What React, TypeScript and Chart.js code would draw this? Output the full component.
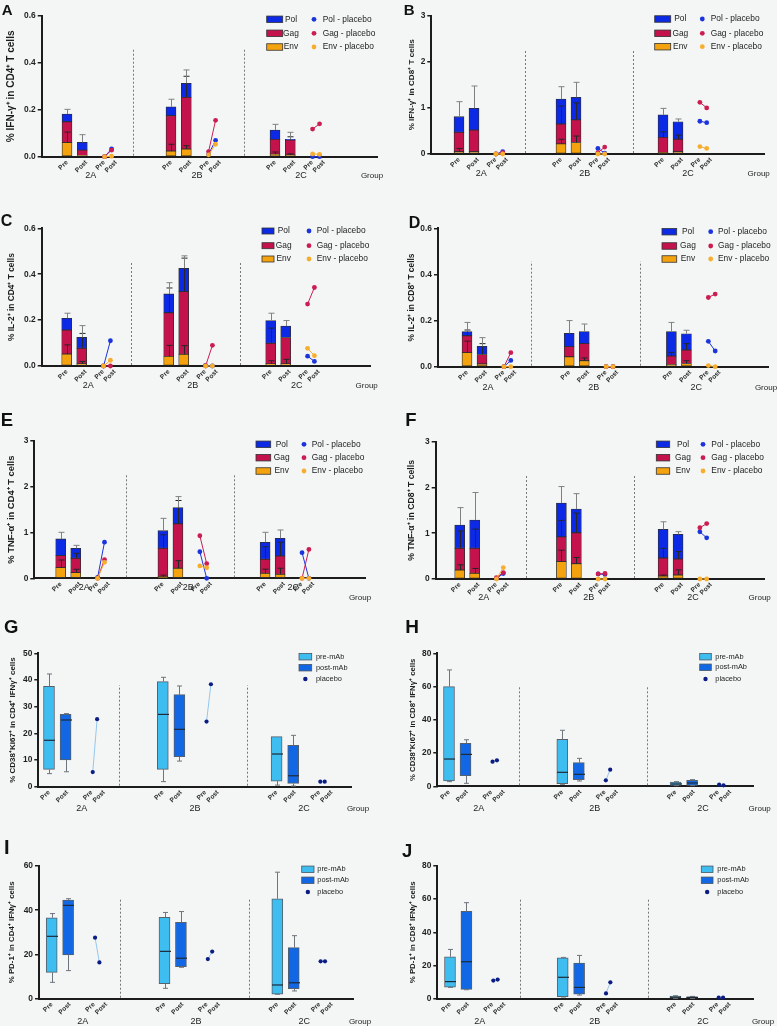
import React, { useEffect, useRef } from 'react';
import { Chart, registerables } from 'chart.js';

Chart.register(...registerables);

const FONT = '"Liberation Sans", Arial, Helvetica, sans-serif';
const BG = '#f4f6f6';
const INK = '#1c1c1c';

const POL_C = '#0c2ae6';
const GAG_C = '#c4124c';
const ENV_C = '#f4a20e';
const POL_PL = '#1b34dc';
const GAG_PL = '#cc1d52';
const ENV_PL = '#f7ae2e';
const PRE_C = '#3ebdf0';
const POST_C = '#1268e4';
const PL_DOT = '#0b1d84';
const PL_LINE = '#93c7ee';

const GROUPS = ['2A', '2B', '2C'];
const TIME_LABELS = ['Pre', 'Post'];
const GROUP_WORD = 'Group';
const BAR_LEGEND = ['Pol', 'Gag', 'Env'];
const BAR_PL_LEGEND = ['Pol - placebo', 'Gag - placebo', 'Env - placebo'];
const BOX_LEGEND = ['pre-mAb', 'post-mAb', 'placebo'];

// ---- Bar panels: order [2A Pre, 2A Post, 2B Pre, 2B Post, 2C Pre, 2C Post]; stacked segment heights
// Placebo arrays: [2A pre, 2A post, 2B pre, 2B post, 2C pre, 2C post]
const A_env = [0.060, 0.005, 0.024, 0.033, 0.011, 0.007];
const A_gag = [0.089, 0.023, 0.151, 0.220, 0.063, 0.064];
const A_pol = [0.033, 0.033, 0.038, 0.060, 0.040, 0.003];
const A_envErr = [0.045, 0, 0.029, 0.014, 0.009, 0.005];
const A_gagErr = [0, 0, 0, 0.090, 0, 0.014];
const A_polErr = [0.020, 0.033, 0.032, 0.057, 0.024, 0.030];
const A_plPol = [0, 0.033, 0.010, 0.070, 0, 0];
const A_plGag = [0, 0.028, 0.022, 0.155, 0.118, 0.140];
const A_plEnv = [0, 0.002, 0.008, 0.053, 0.012, 0.010];

const B_env = [0.05, 0.05, 0.22, 0.25, 0.03, 0.05];
const B_gag = [0.42, 0.47, 0.43, 0.49, 0.33, 0.27];
const B_pol = [0.34, 0.47, 0.54, 0.49, 0.49, 0.38];
const B_envErr = [0.07, 0, 0.10, 0.14, 0, 0];
const B_gagErr = [0, 0, 0.39, 0.37, 0.12, 0.09];
const B_polErr = [0.325, 0.485, 0.27, 0.325, 0.14, 0.06];
const B_plPol = [0, 0.05, 0.12, 0.02, 0.71, 0.68];
const B_plGag = [0, 0.03, 0.03, 0.15, 1.12, 1.0];
const B_plEnv = [0, 0, 0, 0, 0.16, 0.12];

const C_env = [0.052, 0.009, 0.042, 0.051, 0.009, 0.009];
const C_gag = [0.105, 0.068, 0.190, 0.273, 0.090, 0.115];
const C_pol = [0.051, 0.048, 0.082, 0.102, 0.099, 0.050];
const C_envErr = [0.040, 0.011, 0.048, 0.038, 0.014, 0.020];
const C_gagErr = [0, 0.065, 0.108, 0.146, 0.066, 0];
const C_polErr = [0.022, 0.051, 0.049, 0.054, 0.032, 0.024];
const C_plPol = [0, 0.11, 0.003, 0, 0.043, 0.020];
const C_plGag = [0, 0, 0, 0.09, 0.27, 0.342];
const C_plEnv = [0, 0.025, 0, 0, 0.077, 0.045];

const D_env = [0.061, 0.012, 0.043, 0.026, 0.010, 0.014];
const D_gag = [0.073, 0.041, 0.044, 0.074, 0.036, 0.058];
const D_pol = [0.018, 0.035, 0.058, 0.052, 0.106, 0.071];
const D_envErr = [0.050, 0, 0, 0.012, 0, 0.012];
const D_gagErr = [0.025, 0.047, 0, 0, 0.016, 0.028];
const D_polErr = [0.040, 0.038, 0.055, 0.033, 0.040, 0.015];
const D_plPol = [0, 0.027, 0, 0, 0.11, 0.068];
const D_plGag = [0, 0.061, 0, 0, 0.30, 0.315];
const D_plEnv = [0, 0, 0, 0, 0.005, 0];

const E_env = [0.233, 0.124, 0.036, 0.220, 0.110, 0.087];
const E_gag = [0.262, 0.313, 0.619, 0.970, 0.305, 0.401];
const E_pol = [0.365, 0.218, 0.385, 0.355, 0.372, 0.386];
const E_envErr = [0.167, 0.073, 0.034, 0.166, 0.090, 0.133];
const E_gagErr = [0, 0.110, 0.295, 0.510, 0.275, 0.300];
const E_polErr = [0.145, 0.065, 0.270, 0.240, 0.218, 0.182];
const E_plPol = [0.02, 0.79, 0.58, 0, 0.56, 0];
const E_plGag = [0, 0.41, 0.93, 0.32, 0, 0.63];
const E_plEnv = [0, 0.35, 0.27, 0.23, 0, 0];

const F_env = [0.197, 0.124, 0.380, 0.335, 0.066, 0.087];
const F_gag = [0.473, 0.546, 0.540, 0.675, 0.394, 0.350];
const F_pol = [0.510, 0.620, 0.740, 0.520, 0.625, 0.539];
const F_envErr = [0.113, 0.106, 0.250, 0.135, 0.021, 0.113];
const F_gagErr = [0.380, 0.420, 0.360, 0.430, 0.210, 0.163];
const F_polErr = [0.380, 0.600, 0.360, 0.335, 0.165, 0.058];
const F_plPol = [0.01, 0.12, 0.11, 0.10, 1.03, 0.90];
const F_plGag = [0.03, 0.14, 0.11, 0.12, 1.12, 1.21];
const F_plEnv = [0, 0.25, 0, 0, 0, 0];

// ---- Box panels: order [2A Pre, 2A Post, 2B Pre, 2B Post, 2C Pre, 2C Post]
const G_min = [4.9, 5.6, 1.9, 9.6, 0.6, 0.25];
const G_q1 = [6.5, 10, 6.5, 11.25, 2.1, 1.25];
const G_med = [17.4, 25, 27.1, 21.5, 12.25, 4.1];
const G_q3 = [37.6, 27.1, 39.4, 34.5, 18.75, 15.5];
const G_max = [42.25, 27.4, 41, 37.75, 18.75, 19.25];
const G_placebo = [5.5, 25.3, 24.4, 38.4, 1.9, 1.9];

const H_min = [2.8, 1.8, 1.2, 3.2, 0.4, 0.4];
const H_q1 = [3.2, 6.4, 1.6, 4, 0.6, 0.6];
const H_med = [16.4, 19.2, 8.4, 7.2, 1.4, 2];
const H_q3 = [60, 25.9, 28.3, 14.2, 2.6, 3.6];
const H_max = [70, 28, 33.7, 16.8, 2.8, 4];
const H_placebo = [14.8, 15.6, 3.6, 10, 1, 0.6];

const I_min = [7.4, 12.7, 4.7, 14.2, 2, 3.5];
const I_q1 = [11.9, 19.8, 6.8, 14.5, 2.1, 4.5];
const I_med = [28.2, 42.2, 21.4, 18.3, 6.2, 7.2];
const I_q3 = [36.6, 44.6, 36.8, 34.5, 45.2, 23.1];
const I_max = [38.5, 45.2, 39, 39.4, 57.2, 28.5];
const I_placebo = [27.6, 16.4, 17.9, 21.3, 16.9, 16.9];

const J_min = [6.8, 5.4, 1, 2.2, 0.2, 0.2];
const J_q1 = [7, 5.6, 1.2, 2.8, 0.4, 0.4];
const J_med = [10.3, 22.3, 12.9, 6.8, 0.9, 0.8];
const J_q3 = [25.3, 52.7, 24.7, 21.5, 1.6, 1.2];
const J_max = [29.7, 57.9, 24.9, 26.1, 1.8, 1.4];
const J_placebo = [10.9, 11.5, 3.2, 9.9, 0.6, 0.6];

// slot offsets inside a group (7 units per group): Pre, Post, placebo Pre, placebo Post
const BAR_SLOTS = [0, 1.03, 2.53, 3.0];
const BOX_SLOTS = [0, 1.02, 2.69, 2.96];
// where the Pre/Post tick labels sit
const BAR_TICK_SLOTS = [0, 1.3, 2.5, 3.3];
const BOX_TICK_SLOTS = [0, 1.12, 2.62, 3.38];

// ---- Layout (page pixels)
const LAYOUT: any = {
  A: { canvas: { L: 0, T: 0, W: 388, H: 195 }, plot: { left: 41.7, top: 16, right: 377, bottom: 156.7 }, firstX: 67, spacing: 104,
    seps: [133.3, 244.3], groupX: [90.7, 197, 301], groupY: 176, word: [372, 176], titleX: 11.7, titleLen: 112,
    letter: { x: 2.7, y: 4, size: 15 }, legend: { boxL: 266.7, boxW: 16, boxH: 6.5, rows: [19.3, 33.3, 47], textX: 291, dotX: 314, dotTextX: 322.7 } },
  B: { canvas: { L: 388, T: 0, W: 389, H: 195 }, plot: { left: 431.3, top: 15.7, right: 764.7, bottom: 154 }, firstX: 459, spacing: 102,
    seps: [524.7, 633], groupX: [481.3, 584.7, 688], groupY: 174, word: [758.7, 174], titleX: 24, titleLen: 90,
    letter: { x: 404.7, y: 4, size: 15 }, legend: { boxL: 654.7, boxW: 16, boxH: 6.5, rows: [19, 33.3, 46.7], textX: 680.3, dotX: 702.3, dotTextX: 710.7 } },
  C: { canvas: { L: 0, T: 195, W: 388, H: 200 }, plot: { left: 41.7, top: 228.3, right: 370, bottom: 366 }, firstX: 66.7, spacing: 102,
    seps: [131, 240], groupX: [88.3, 192.7, 296.7], groupY: 386, word: [366.7, 386], titleX: 11.7, titleLen: 87,
    letter: { x: 1.7, y: 215, size: 16 }, legend: { boxL: 262, boxW: 12, boxH: 6, rows: [231, 245.7, 259], textX: 283.7, dotX: 309, dotTextX: 316.7 } },
  D: { canvas: { L: 388, T: 195, W: 389, H: 200 }, plot: { left: 438, top: 228.3, right: 768, bottom: 366.7 }, firstX: 467, spacing: 102.2,
    seps: [531.3, 640.3], groupX: [488, 593.7, 696.3], groupY: 387.3, word: [766, 387.3], titleX: 23.3, titleLen: 87,
    letter: { x: 409.7, y: 216.7, size: 16 }, legend: { boxL: 662, boxW: 14.7, boxH: 6.5, rows: [231.7, 246, 259], textX: 688, dotX: 710.7, dotTextX: 718 } },
  E: { canvas: { L: 0, T: 395, W: 388, H: 210 }, plot: { left: 34.3, top: 441, right: 365, bottom: 578.3 }, firstX: 60.7, spacing: 102.2,
    seps: [125.7, 234.3], groupX: [84.3, 188.3, 293.3], groupY: 587.7, word: [360, 597.7], titleX: 11.7, titleLen: 108,
    letter: { x: 1.7, y: 413.3, size: 18.5 }, legend: { boxL: 256, boxW: 14.7, boxH: 6.5, rows: [444.3, 457.7, 471], textX: 281.7, dotX: 304, dotTextX: 311.7 } },
  F: { canvas: { L: 388, T: 395, W: 389, H: 210 }, plot: { left: 435.7, top: 441.7, right: 764.7, bottom: 579 }, firstX: 459.7, spacing: 101.7,
    seps: [525.7, 634], groupX: [483.7, 588.7, 693], groupY: 597.7, word: [759.7, 597.7], titleX: 23.3, titleLen: 100,
    letter: { x: 406.3, y: 413.3, size: 18.5 }, legend: { boxL: 656.3, boxW: 13.4, boxH: 6.5, rows: [444.3, 457.7, 471], textX: 683, dotX: 703, dotTextX: 711.3 } },
  G: { canvas: { L: 0, T: 605, W: 388, H: 210 }, plot: { left: 38.3, top: 653.3, right: 351.7, bottom: 786.7 }, firstX: 49, spacing: 113.8,
    seps: [119.3, 247.3], groupX: [81.7, 195, 304], groupY: 809, word: [358, 809], titleX: 12.7, titleLen: 123,
    letter: { x: 5, y: 620, size: 18.5 }, legend: { boxL: 299, boxW: 12.7, boxH: 6.5, rows: [656.7, 667.7, 679], textL: 316 } },
  H: { canvas: { L: 388, T: 605, W: 389, H: 210 }, plot: { left: 437.3, top: 653.3, right: 753, bottom: 786.3 }, firstX: 449, spacing: 113.3,
    seps: [519, 647.3], groupX: [478.7, 594.7, 703], groupY: 809, word: [759.7, 809], titleX: 25, titleLen: 120,
    letter: { x: 406.3, y: 619, size: 19 }, legend: { boxL: 699.7, boxW: 11.6, boxH: 6.5, rows: [656.7, 667.3, 679], textL: 715.3 } },
  I: { canvas: { L: 0, T: 815, W: 388, H: 211 }, plot: { left: 39, top: 866, right: 353.3, bottom: 998.7 }, firstX: 51.7, spacing: 112.8,
    seps: [120, 249.3], groupX: [82.7, 196, 304.3], groupY: 1021.7, word: [360, 1021.7], titleX: 11.7, titleLen: 100,
    letter: { x: 5, y: 840, size: 20 }, legend: { boxL: 301.7, boxW: 12.3, boxH: 6.5, rows: [869.3, 880.3, 892], textL: 317.3 } },
  J: { canvas: { L: 388, T: 815, W: 389, H: 211 }, plot: { left: 437.3, top: 866, right: 753, bottom: 998.7 }, firstX: 450, spacing: 112.7,
    seps: [520.3, 648.3], groupX: [479.7, 594.7, 703], groupY: 1021.7, word: [763, 1021.7], titleX: 25, titleLen: 100,
    letter: { x: 403, y: 844.3, size: 18.5 }, legend: { boxL: 701.3, boxW: 11.7, boxH: 6.5, rows: [869.3, 880.3, 892], textL: 717.3 } },
};

const PANELS: any[] = [
  { id: 'A', kind: 'bar', title: '% IFN-γ⁺ in CD4⁺ T cells', yMax: 0.6, yStep: 0.2, dec: 1,
    env: A_env, gag: A_gag, pol: A_pol, envErr: A_envErr, gagErr: A_gagErr, polErr: A_polErr, plPol: A_plPol, plGag: A_plGag, plEnv: A_plEnv },
  { id: 'B', kind: 'bar', title: '% IFN-γ⁺ in CD8⁺ T cells', yMax: 3, yStep: 1, dec: 0,
    env: B_env, gag: B_gag, pol: B_pol, envErr: B_envErr, gagErr: B_gagErr, polErr: B_polErr, plPol: B_plPol, plGag: B_plGag, plEnv: B_plEnv },
  { id: 'C', kind: 'bar', title: '% IL-2⁺ in CD4⁺ T cells', yMax: 0.6, yStep: 0.2, dec: 1,
    env: C_env, gag: C_gag, pol: C_pol, envErr: C_envErr, gagErr: C_gagErr, polErr: C_polErr, plPol: C_plPol, plGag: C_plGag, plEnv: C_plEnv },
  { id: 'D', kind: 'bar', title: '% IL-2⁺ in CD8⁺ T cells', yMax: 0.6, yStep: 0.2, dec: 1,
    env: D_env, gag: D_gag, pol: D_pol, envErr: D_envErr, gagErr: D_gagErr, polErr: D_polErr, plPol: D_plPol, plGag: D_plGag, plEnv: D_plEnv },
  { id: 'E', kind: 'bar', title: '% TNF-α⁺ in CD4⁺ T cells', yMax: 3, yStep: 1, dec: 0,
    env: E_env, gag: E_gag, pol: E_pol, envErr: E_envErr, gagErr: E_gagErr, polErr: E_polErr, plPol: E_plPol, plGag: E_plGag, plEnv: E_plEnv },
  { id: 'F', kind: 'bar', title: '% TNF-α⁺ in CD8⁺ T cells', yMax: 3, yStep: 1, dec: 0,
    env: F_env, gag: F_gag, pol: F_pol, envErr: F_envErr, gagErr: F_gagErr, polErr: F_polErr, plPol: F_plPol, plGag: F_plGag, plEnv: F_plEnv },
  { id: 'G', kind: 'box', title: '% CD38⁺Ki67⁺ in CD4⁺ IFNγ⁺ cells', yMax: 50, yStep: 10, dec: 0,
    min: G_min, q1: G_q1, med: G_med, q3: G_q3, max: G_max, placebo: G_placebo },
  { id: 'H', kind: 'box', title: '% CD38⁺Ki67⁺ in CD8⁺ IFNγ⁺ cells', yMax: 80, yStep: 20, dec: 0,
    min: H_min, q1: H_q1, med: H_med, q3: H_q3, max: H_max, placebo: H_placebo },
  { id: 'I', kind: 'box', title: '% PD-1⁺ in CD4⁺ IFNγ⁺ cells', yMax: 60, yStep: 20, dec: 0,
    min: I_min, q1: I_q1, med: I_med, q3: I_q3, max: I_max, placebo: I_placebo },
  { id: 'J', kind: 'box', title: '% PD-1⁺ in CD8⁺ IFNγ⁺ cells', yMax: 80, yStep: 20, dec: 0,
    min: J_min, q1: J_q1, med: J_med, q3: J_q3, max: J_max, placebo: J_placebo },
];

let measureCtx: any = null;
function fitFont(text: string, target: number, weight: string) {
  if (!measureCtx) measureCtx = document.createElement('canvas').getContext('2d');
  measureCtx.font = `${weight} 10px ${FONT}`;
  const w = measureCtx.measureText(text).width || 100;
  return (10 * target) / w;
}

function decoPlugin(p: any, xAt: (g: number, s: number) => number) {
  const lay = LAYOUT[p.id];
  const { L, T } = lay.canvas;
  const vline = (ctx: any, x: number, y1: number, y2: number, capW: number) => {
    ctx.beginPath();
    ctx.moveTo(x, y1);
    ctx.lineTo(x, y2);
    ctx.moveTo(x - capW / 2, y2);
    ctx.lineTo(x + capW / 2, y2);
    ctx.stroke();
  };
  return {
    id: 'deco' + p.id,
    beforeDatasetsDraw(chart: any) {
      const { ctx, chartArea: a } = chart;
      ctx.save();
      ctx.strokeStyle = '#6a6a6a';
      ctx.lineWidth = 0.9;
      ctx.setLineDash([2, 2]);
      const top = a.bottom - 0.76 * (a.bottom - a.top);
      lay.seps.forEach((sx: number) => {
        const x = Math.round(sx - L) + 0.5;
        ctx.beginPath();
        ctx.moveTo(x, a.bottom - 1);
        ctx.lineTo(x, top);
        ctx.stroke();
      });
      ctx.restore();
    },
    afterDatasetsDraw(chart: any) {
      const { ctx } = chart;
      const xs = chart.scales.x;
      const ys = chart.scales.y;
      ctx.save();
      ctx.lineWidth = 1;
      if (p.kind === 'bar') {
        const segs = [
          [p.env, p.envErr, '#262626'],
          [p.gag, p.gagErr, '#262626'],
          [p.pol, p.polErr, '#808080'],
        ];
        for (let i = 0; i < 6; i++) {
          const x = Math.round(xs.getPixelForValue(xAt(i >> 1, i & 1))) + 0.5;
          let base = 0;
          segs.forEach(([vals, errs, col]: any) => {
            const top = base + vals[i];
            base = top;
            const e = errs[i];
            if (!e) return;
            ctx.strokeStyle = col;
            vline(ctx, x, ys.getPixelForValue(top), ys.getPixelForValue(top + e), 6);
          });
        }
      } else {
        for (let i = 0; i < 6; i++) {
          const x = Math.round(xs.getPixelForValue(xAt(i >> 1, i & 1))) + 0.5;
          ctx.strokeStyle = '#6d747b';
          if (p.max[i] > p.q3[i]) vline(ctx, x, ys.getPixelForValue(p.q3[i]), ys.getPixelForValue(p.max[i]), 5);
          if (p.min[i] < p.q1[i]) vline(ctx, x, ys.getPixelForValue(p.q1[i]), ys.getPixelForValue(p.min[i]), 5);
          ctx.strokeStyle = '#1e2a36';
          ctx.lineWidth = 1.2;
          const ym = ys.getPixelForValue(p.med[i]);
          ctx.beginPath();
          ctx.moveTo(x - 5.5, ym);
          ctx.lineTo(x + 5.5, ym);
          ctx.stroke();
          ctx.lineWidth = 1;
        }
      }
      ctx.restore();
    },
    afterDraw(chart: any) {
      const { ctx } = chart;
      ctx.save();
      ctx.fillStyle = INK;
      ctx.textBaseline = 'middle';
      ctx.textAlign = 'center';
      ctx.font = `9px ${FONT}`;
      GROUPS.forEach((g, k) => ctx.fillText(g, lay.groupX[k] - L, lay.groupY - T));
      ctx.font = `8px ${FONT}`;
      ctx.fillText(GROUP_WORD, lay.word[0] - L, lay.word[1] - T);

      const lg = lay.legend;
      if (p.kind === 'bar') {
        const cols = [POL_C, GAG_C, ENV_C];
        const pcols = [POL_PL, GAG_PL, ENV_PL];
        ctx.font = `8.4px ${FONT}`;
        lg.rows.forEach((ry: number, r: number) => {
          const y = ry - T;
          ctx.fillStyle = cols[r];
          ctx.fillRect(lg.boxL - L, y - lg.boxH / 2, lg.boxW, lg.boxH);
          ctx.strokeStyle = '#333';
          ctx.lineWidth = 0.8;
          ctx.strokeRect(lg.boxL - L, y - lg.boxH / 2, lg.boxW, lg.boxH);
          ctx.fillStyle = INK;
          ctx.textAlign = 'center';
          ctx.fillText(BAR_LEGEND[r], lg.textX - L, y);
          ctx.fillStyle = pcols[r];
          ctx.beginPath();
          ctx.arc(lg.dotX - L, y, 2.4, 0, Math.PI * 2);
          ctx.fill();
          ctx.fillStyle = INK;
          ctx.textAlign = 'left';
          ctx.fillText(BAR_PL_LEGEND[r], lg.dotTextX - L, y);
        });
      } else {
        ctx.font = `7.4px ${FONT}`;
        const cols = [PRE_C, POST_C];
        lg.rows.forEach((ry: number, r: number) => {
          const y = ry - T;
          if (r < 2) {
            ctx.fillStyle = cols[r];
            ctx.fillRect(lg.boxL - L, y - lg.boxH / 2, lg.boxW, lg.boxH);
            ctx.strokeStyle = '#4a5560';
            ctx.lineWidth = 0.8;
            ctx.strokeRect(lg.boxL - L, y - lg.boxH / 2, lg.boxW, lg.boxH);
          } else {
            ctx.fillStyle = PL_DOT;
            ctx.beginPath();
            ctx.arc(lg.boxL - L + lg.boxW / 2, y, 2.2, 0, Math.PI * 2);
            ctx.fill();
          }
          ctx.fillStyle = INK;
          ctx.textAlign = 'left';
          ctx.fillText(BOX_LEGEND[r], lg.textL - L, y);
        });
      }
      ctx.restore();
    },
  };
}

function buildConfig(p: any) {
  const lay = LAYOUT[p.id];
  const { L, T, W, H } = lay.canvas;
  const unit = lay.spacing / 7;
  const toUnit = (px: number) => (px - lay.firstX) / unit;
  const slots = p.kind === 'bar' ? BAR_SLOTS : BOX_SLOTS;
  const tickSlots = p.kind === 'bar' ? BAR_TICK_SLOTS : BOX_TICK_SLOTS;
  const xAt = (g: number, s: number) => 7 * g + slots[s];
  const tickVals: number[] = [];
  GROUPS.forEach((_, g) => tickSlots.forEach((ts) => tickVals.push(7 * g + ts)));

  const datasets: any[] = [];
  const plLine = (vals: number[], g: number, color: string, lineColor: string, r: number) => ({
    type: 'line',
    data: [
      { x: xAt(g, 2), y: vals[2 * g] },
      { x: xAt(g, 3), y: vals[2 * g + 1] },
    ],
    borderColor: lineColor,
    backgroundColor: color,
    pointBackgroundColor: color,
    pointBorderColor: color,
    pointRadius: r,
    pointBorderWidth: 0,
    borderWidth: 1,
    clip: false,
    fill: false,
  });

  if (p.kind === 'bar') {
    const segs = [
      { label: 'Env', vals: p.env, color: ENV_C },
      { label: 'Gag', vals: p.gag, color: GAG_C },
      { label: 'Pol', vals: p.pol, color: POL_C },
    ];
    const base = [0, 0, 0, 0, 0, 0];
    segs.forEach((seg) => {
      const data = seg.vals.map((v: number, i: number) => {
        const lo = base[i];
        base[i] = lo + v;
        return { x: xAt(i >> 1, i & 1), y: [lo, lo + v] };
      });
      datasets.push({
        type: 'bar', label: seg.label, data, backgroundColor: seg.color,
        borderColor: '#2e2e2e', borderWidth: 0.8, borderSkipped: false, barThickness: 10, grouped: false,
      });
    });
    const pl = [
      [p.plEnv, ENV_PL],
      [p.plGag, GAG_PL],
      [p.plPol, POL_PL],
    ];
    pl.forEach(([vals, col]: any) => {
      GROUPS.forEach((_, g) => datasets.push(plLine(vals, g, col, col, 2.4)));
    });
  } else {
    [0, 1].forEach((t) => {
      datasets.push({
        type: 'bar',
        label: BOX_LEGEND[t],
        data: GROUPS.map((_, g) => ({ x: xAt(g, t), y: [p.q1[2 * g + t], p.q3[2 * g + t]] })),
        backgroundColor: t === 0 ? PRE_C : POST_C,
        borderColor: '#56616b', borderWidth: 1, borderSkipped: false, barThickness: 11, grouped: false,
      });
    });
    GROUPS.forEach((_, g) => datasets.push(plLine(p.placebo, g, PL_DOT, PL_LINE, 2.1)));
  }

  const titleSize = fitFont(p.title, lay.titleLen, 'bold');
  const titleLH = titleSize * 1.2;

  return {
    type: 'bar',
    data: { datasets },
    options: {
      responsive: false,
      animation: false,
      devicePixelRatio: 1,
      layout: { padding: { left: 0, top: lay.plot.top - T, right: L + W - lay.plot.right, bottom: 0 } },
      plugins: { legend: { display: false }, tooltip: { enabled: false } },
      scales: {
        x: {
          type: 'linear',
          min: toUnit(lay.plot.left),
          max: toUnit(lay.plot.right),
          offset: false,
          grid: { display: false, drawTicks: false },
          border: { display: true, color: INK, width: 2 },
          afterBuildTicks: (s: any) => {
            s.ticks = tickVals.map((v) => ({ value: v }));
          },
          afterFit: (s: any) => {
            s.height = T + H - lay.plot.bottom;
          },
          ticks: {
            autoSkip: false, maxRotation: 45, minRotation: 45, padding: 2, color: '#2a2a2a',
            font: { family: FONT, size: 6.5, weight: 'bold' },
            callback: (_v: any, i: number) => TIME_LABELS[i % 2],
          },
        },
        y: {
          type: 'linear',
          min: 0,
          max: p.yMax,
          grid: { display: true, drawOnChartArea: false, drawTicks: true, tickLength: 4, color: INK, lineWidth: 1.5 },
          border: { display: true, color: INK, width: 2 },
          afterFit: (s: any) => {
            s.width = lay.plot.left - L;
          },
          ticks: {
            stepSize: p.yStep, padding: 2, color: '#1f1f1f',
            font: { family: FONT, size: 8.4, weight: 'bold' },
            callback: (v: any) => Number(v).toFixed(p.dec),
          },
          title: {
            display: true, text: p.title, color: INK,
            font: { family: FONT, size: titleSize, weight: 'bold', lineHeight: 1.2 },
            padding: { top: Math.max(0, lay.titleX - titleLH / 2), bottom: 0 },
          },
        },
      },
    },
    plugins: [decoPlugin(p, xAt)],
  };
}

function Panel({ p }: { p: any }) {
  const ref = useRef<HTMLCanvasElement>(null);
  const lay = LAYOUT[p.id];
  useEffect(() => {
    const chart = new Chart(ref.current as any, buildConfig(p) as any);
    return () => chart.destroy();
  }, [p]);
  const c = lay.canvas;
  const lt = lay.letter;
  return (
    <>
      <canvas
        ref={ref}
        width={c.W}
        height={c.H}
        style={{ position: 'absolute', left: c.L, top: c.T, width: c.W, height: c.H }}
      />
      <div
        style={{
          position: 'absolute', left: lt.x - 1, top: lt.y - 0.13 * lt.size, fontSize: lt.size, lineHeight: 1,
          fontWeight: 'bold', fontFamily: FONT, color: '#111',
        }}
      >
        {p.id}
      </div>
    </>
  );
}

export default function App() {
  return (
    <div style={{ position: 'absolute', left: 0, top: 0, width: 777, height: 1026, background: BG, overflow: 'hidden' }}>
      {PANELS.map((p) => (
        <Panel key={p.id} p={p} />
      ))}
    </div>
  );
}
